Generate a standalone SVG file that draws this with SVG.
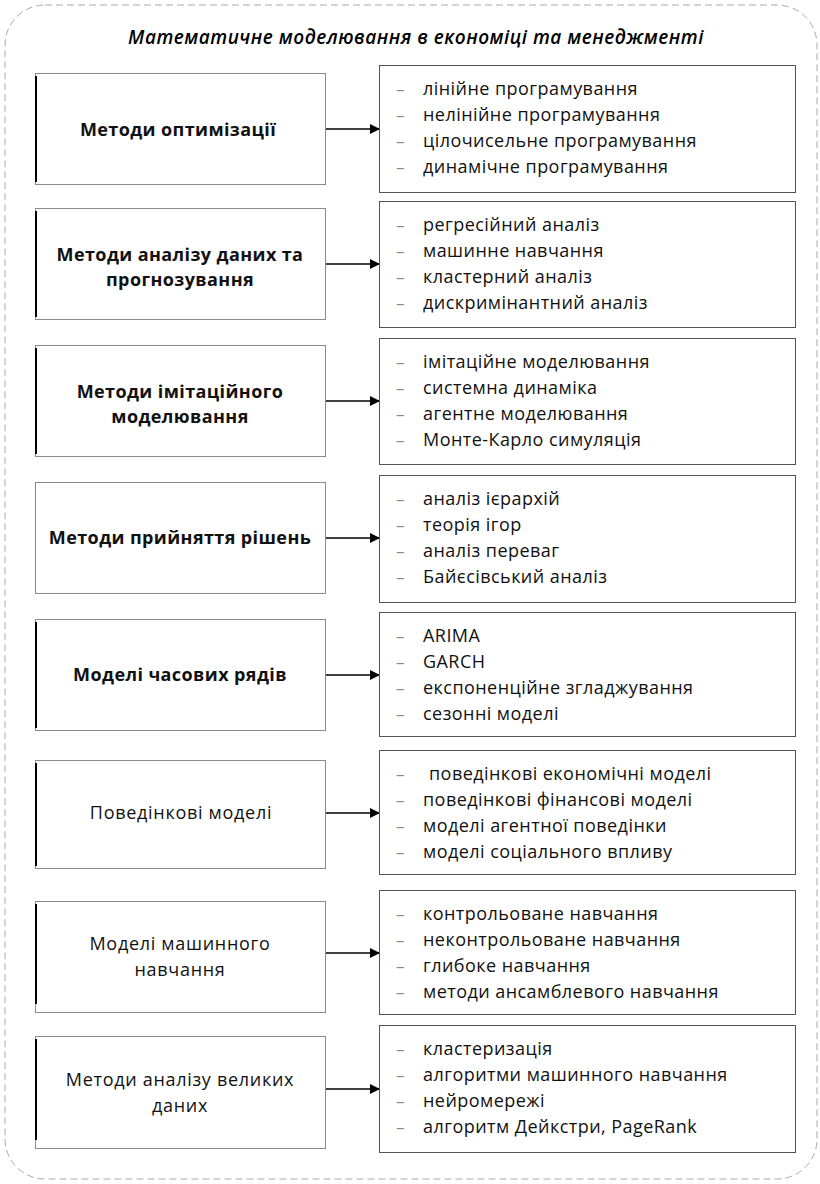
<svg xmlns="http://www.w3.org/2000/svg" width="820" height="1184" viewBox="0 0 820 1184">
<defs>
<style>
.frame{fill:none;stroke:#aaa;stroke-width:1;stroke-dasharray:7 4}
.lb{fill:#fff;stroke:#8a8a8a;stroke-width:1}
.lbe{stroke:#000;stroke-width:2}
.rb{fill:#fff;stroke:#555;stroke-width:1}
.t{font-family:"Open Sans","Liberation Sans",sans-serif;font-size:18px;letter-spacing:0.45px;fill:#111}
.b{font-weight:bold;letter-spacing:0.4px}
.r{letter-spacing:0.7px}
.c{text-anchor:middle}
.d{font-family:"Open Sans","Liberation Sans",sans-serif;font-size:17px;fill:#888}
.title{font-family:"Open Sans","Liberation Sans",sans-serif;font-size:19px;letter-spacing:0.5px;font-style:italic;font-weight:600;fill:#000;text-anchor:middle}
.ar{stroke:#000;stroke-width:1.3;fill:none}
</style>
<marker id="ah" viewBox="0 0 10 10" refX="10" refY="5" markerWidth="10" markerHeight="10" markerUnits="userSpaceOnUse" orient="auto"><path d="M0,0 L10,5 L0,10 z" fill="#000"/></marker>
</defs>
<rect class="frame" x="5" y="5" width="812" height="1174" rx="40"/>
<text class="title" x="416" y="44">Математичне моделювання в економіці та менеджменті</text>

<g id="connectors">
<line class="ar" x1="325" y1="129" x2="380" y2="129" marker-end="url(#ah)"/>
<line class="ar" x1="325" y1="264" x2="380" y2="264" marker-end="url(#ah)"/>
<line class="ar" x1="325" y1="401" x2="380" y2="401" marker-end="url(#ah)"/>
<line class="ar" x1="325" y1="538" x2="380" y2="538" marker-end="url(#ah)"/>
<line class="ar" x1="325" y1="675" x2="380" y2="675" marker-end="url(#ah)"/>
<line class="ar" x1="325" y1="813" x2="380" y2="813" marker-end="url(#ah)"/>
<line class="ar" x1="325" y1="953" x2="380" y2="953" marker-end="url(#ah)"/>
<line class="ar" x1="325" y1="1089" x2="380" y2="1089" marker-end="url(#ah)"/>
</g>

<g id="n1">
<rect class="lb" x="35.5" y="73.5" width="290" height="111"/><line class="lbe" x1="36" y1="76" x2="36" y2="182"/>
<text class="t b c" x="178" y="136">Методи оптимізації</text>
</g>
<g id="n1i">
<rect class="rb" x="379.5" y="65.5" width="416" height="127"/>
<text class="d" x="396" y="95">–</text><text class="t" x="423" y="95">лінійне програмування</text>
<text class="d" x="396" y="121">–</text><text class="t" x="423" y="121">нелінійне програмування</text>
<text class="d" x="396" y="147">–</text><text class="t" x="423" y="147">цілочисельне програмування</text>
<text class="d" x="396" y="173">–</text><text class="t" x="423" y="173">динамічне програмування</text>
</g>

<g id="n2">
<rect class="lb" x="35.5" y="208.5" width="290" height="111"/><line class="lbe" x1="36" y1="211" x2="36" y2="317"/>
<text class="t b c" x="180" y="261">Методи аналізу даних та</text>
<text class="t b c" x="180" y="286">прогнозування</text>
</g>
<g id="n2i">
<rect class="rb" x="379.5" y="201.5" width="416" height="126"/>
<text class="d" x="396" y="231">–</text><text class="t" x="423" y="231">регресійний аналіз</text>
<text class="d" x="396" y="257">–</text><text class="t" x="423" y="257">машинне навчання</text>
<text class="d" x="396" y="283">–</text><text class="t" x="423" y="283">кластерний аналіз</text>
<text class="d" x="396" y="309">–</text><text class="t" x="423" y="309">дискримінантний аналіз</text>
</g>

<g id="n3">
<rect class="lb" x="35.5" y="345.5" width="290" height="111"/><line class="lbe" x1="36" y1="348" x2="36" y2="454"/>
<text class="t b c" x="180" y="398">Методи імітаційного</text>
<text class="t b c" x="180" y="423">моделювання</text>
</g>
<g id="n3i">
<rect class="rb" x="379.5" y="338.5" width="416" height="126"/>
<text class="d" x="396" y="368">–</text><text class="t" x="423" y="368">імітаційне моделювання</text>
<text class="d" x="396" y="394">–</text><text class="t" x="423" y="394">системна динаміка</text>
<text class="d" x="396" y="420">–</text><text class="t" x="423" y="420">агентне моделювання</text>
<text class="d" x="396" y="446">–</text><text class="t" x="423" y="446">Монте-Карло симуляція</text>
</g>

<g id="n4">
<rect class="lb" x="35.5" y="482.5" width="290" height="111"/>
<text class="t b c" x="180" y="544">Методи прийняття рішень</text>
</g>
<g id="n4i">
<rect class="rb" x="379.5" y="475.5" width="416" height="127"/>
<text class="d" x="396" y="505">–</text><text class="t" x="423" y="505">аналіз ієрархій</text>
<text class="d" x="396" y="531">–</text><text class="t" x="423" y="531">теорія ігор</text>
<text class="d" x="396" y="557">–</text><text class="t" x="423" y="557">аналіз переваг</text>
<text class="d" x="396" y="583">–</text><text class="t" x="423" y="583">Байєсівський аналіз</text>
</g>

<g id="n5">
<rect class="lb" x="35.5" y="619.5" width="290" height="111"/><line class="lbe" x1="36" y1="622" x2="36" y2="728"/>
<text class="t b c" x="180" y="681">Моделі часових рядів</text>
</g>
<g id="n5i">
<rect class="rb" x="379.5" y="612.5" width="416" height="124"/>
<text class="d" x="396" y="642">–</text><text class="t" x="423" y="642">ARIMA</text>
<text class="d" x="396" y="668">–</text><text class="t" x="423" y="668">GARCH</text>
<text class="d" x="396" y="694">–</text><text class="t" x="423" y="694">експоненційне згладжування</text>
<text class="d" x="396" y="720">–</text><text class="t" x="423" y="720">сезонні моделі</text>
</g>

<g id="n6">
<rect class="lb" x="35.5" y="760.5" width="290" height="108"/><line class="lbe" x1="36" y1="763" x2="36" y2="866"/>
<text class="t r c" x="181" y="819">Поведінкові моделі</text>
</g>
<g id="n6i">
<rect class="rb" x="379.5" y="750.5" width="416" height="124"/>
<text class="d" x="396" y="780">–</text><text class="t" x="429" y="780">поведінкові економічні моделі</text>
<text class="d" x="396" y="806">–</text><text class="t" x="423" y="806">поведінкові фінансові моделі</text>
<text class="d" x="396" y="832">–</text><text class="t" x="423" y="832">моделі агентної поведінки</text>
<text class="d" x="396" y="858">–</text><text class="t" x="423" y="858">моделі соціального впливу</text>
</g>

<g id="n7">
<rect class="lb" x="35.5" y="901.5" width="290" height="111"/><line class="lbe" x1="36" y1="904" x2="36" y2="1004"/>
<text class="t r c" x="180" y="950">Моделі машинного</text>
<text class="t r c" x="180" y="976">навчання</text>
</g>
<g id="n7i">
<rect class="rb" x="379.5" y="890.5" width="416" height="124"/>
<text class="d" x="396" y="920">–</text><text class="t" x="423" y="920">контрольоване навчання</text>
<text class="d" x="396" y="946">–</text><text class="t" x="423" y="946">неконтрольоване навчання</text>
<text class="d" x="396" y="972">–</text><text class="t" x="423" y="972">глибоке навчання</text>
<text class="d" x="396" y="998">–</text><text class="t" x="423" y="998">методи ансамблевого навчання</text>
</g>

<g id="n8">
<rect class="lb" x="35.5" y="1036.5" width="290" height="112"/><line class="lbe" x1="36" y1="1039" x2="36" y2="1140"/>
<text class="t r c" x="180" y="1086">Методи аналізу великих</text>
<text class="t r c" x="180" y="1112">даних</text>
</g>
<g id="n8i">
<rect class="rb" x="379.5" y="1025.5" width="416" height="127"/>
<text class="d" x="396" y="1055">–</text><text class="t" x="423" y="1055">кластеризація</text>
<text class="d" x="396" y="1081">–</text><text class="t" x="423" y="1081">алгоритми машинного навчання</text>
<text class="d" x="396" y="1107">–</text><text class="t" x="423" y="1107">нейромережі</text>
<text class="d" x="396" y="1133">–</text><text class="t" x="423" y="1133">алгоритм Дейкстри, PageRank</text>
</g>
</svg>
